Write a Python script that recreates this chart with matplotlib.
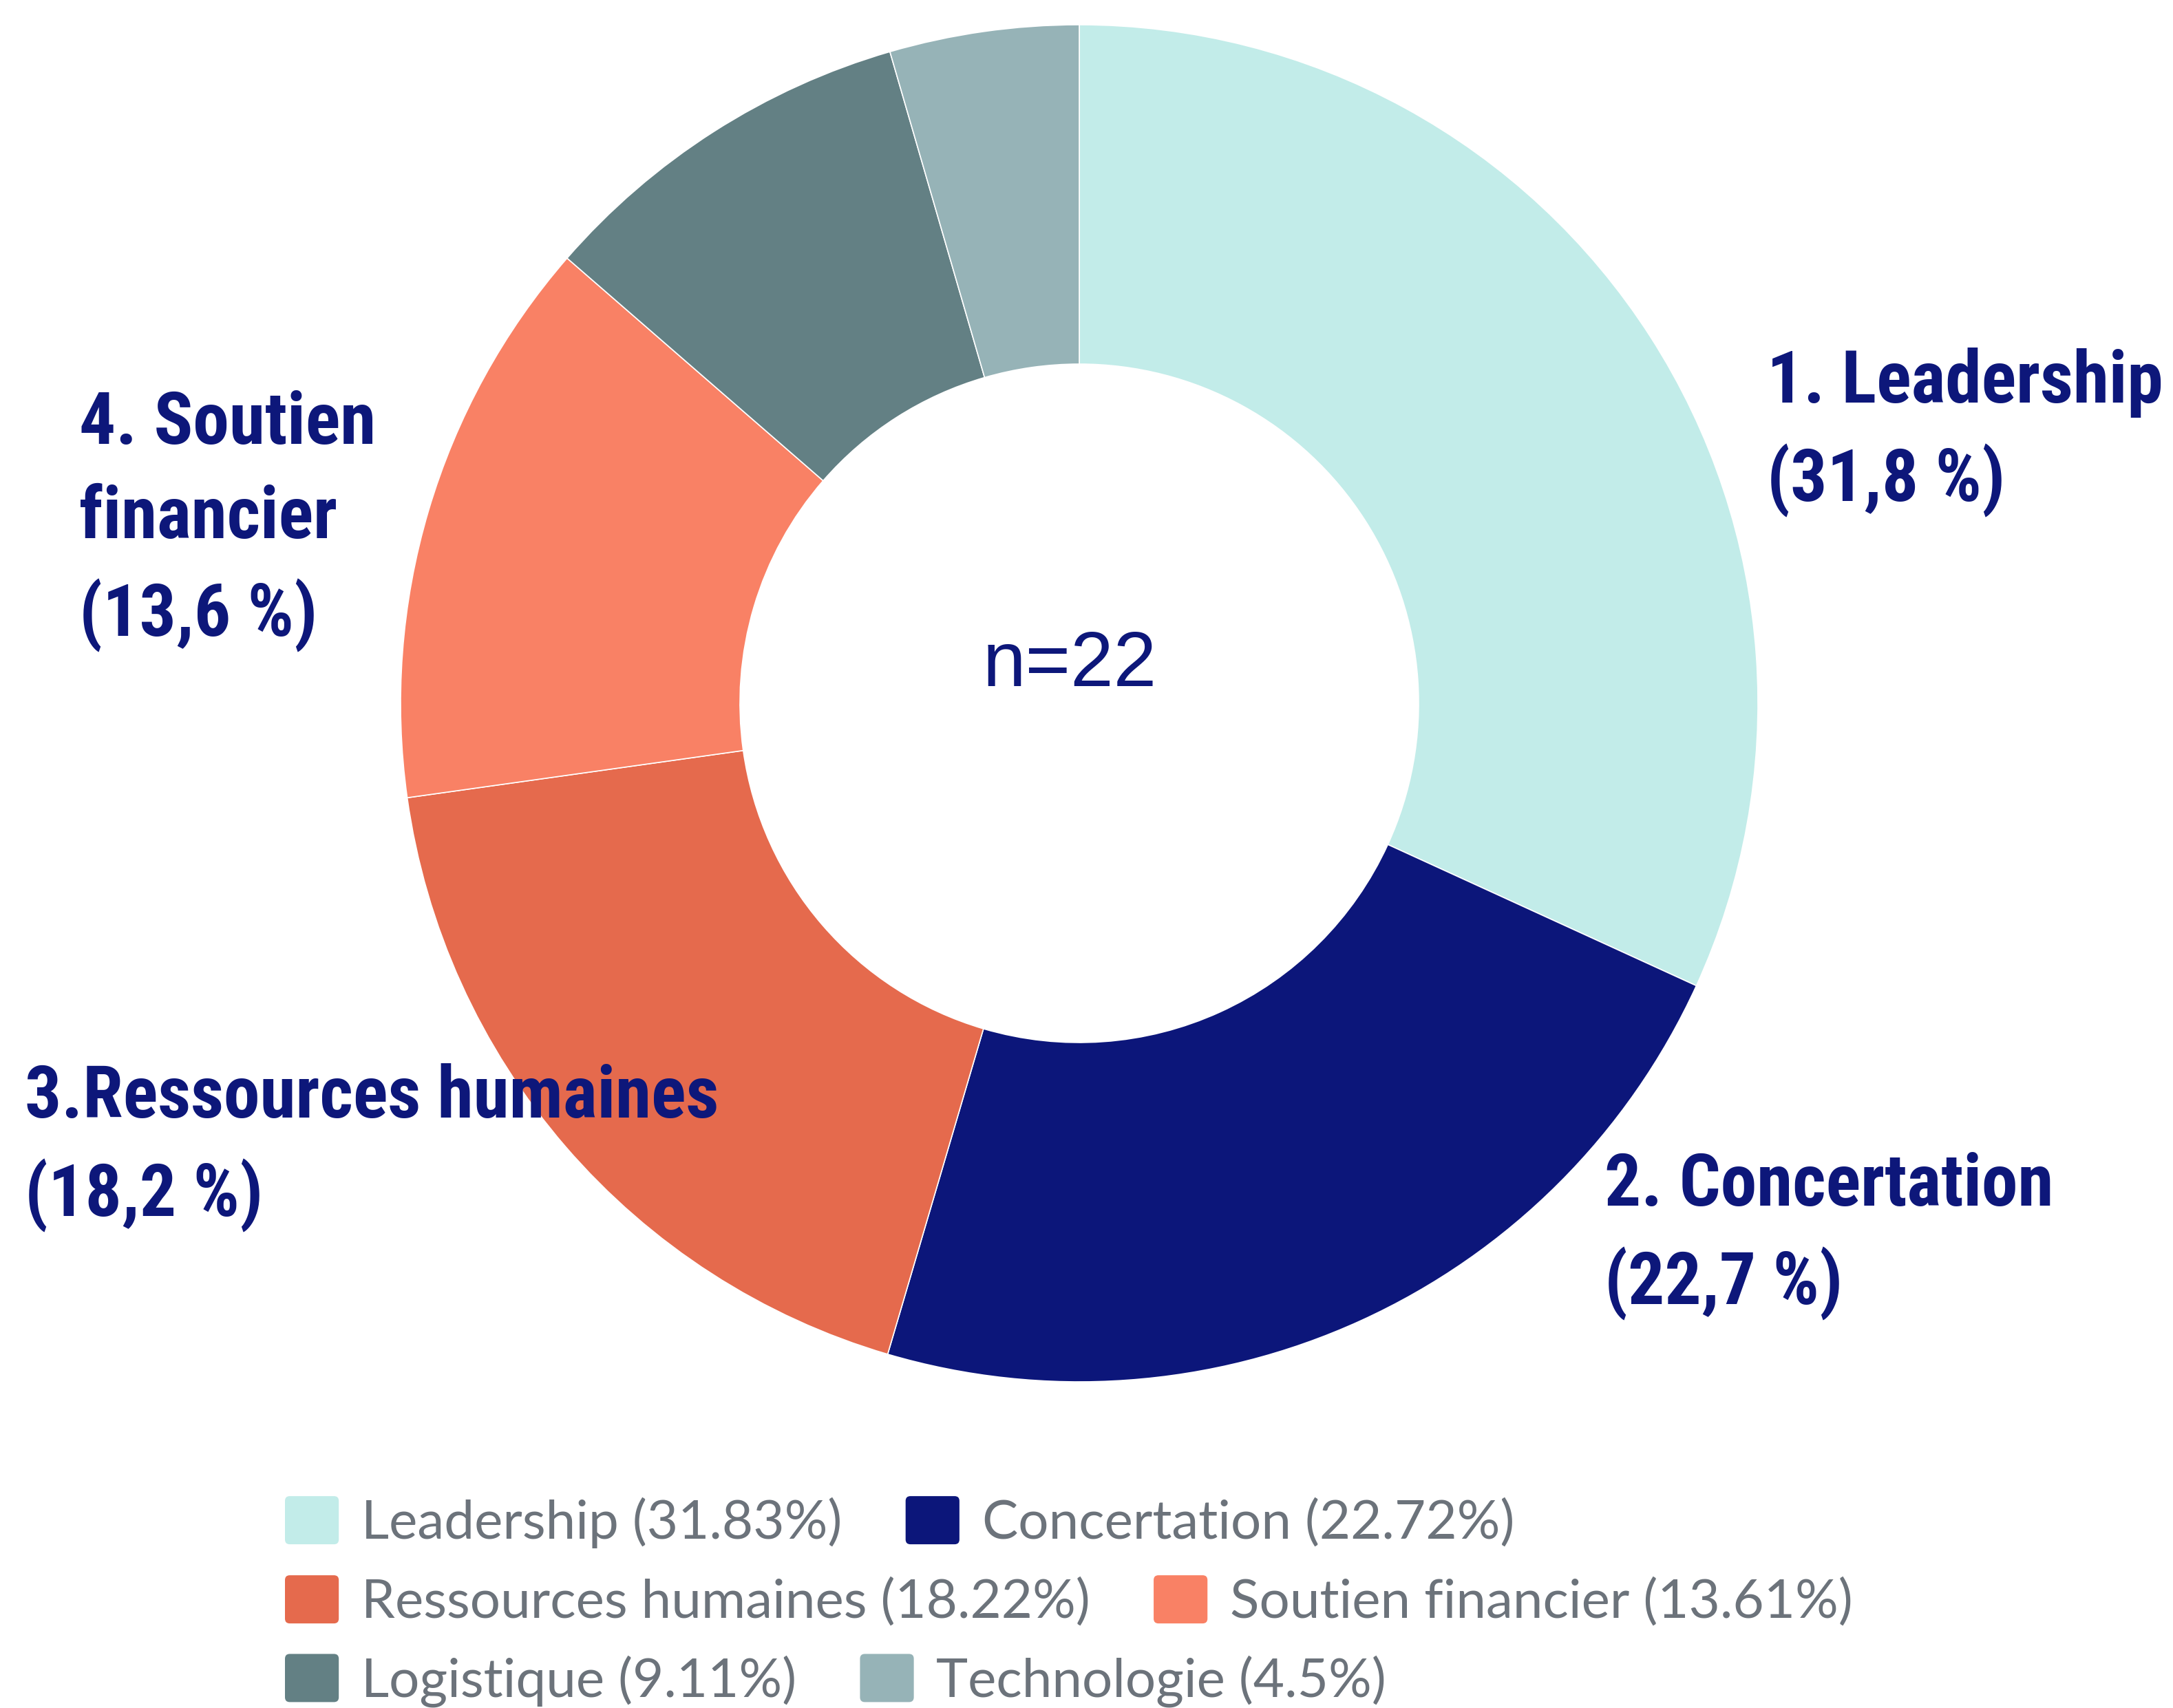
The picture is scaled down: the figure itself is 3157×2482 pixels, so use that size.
import matplotlib
matplotlib.use("Agg")
import matplotlib.pyplot as plt
from matplotlib.patches import Patch, FancyBboxPatch
from matplotlib.legend_handler import HandlerPatch
from matplotlib import font_manager

# Données
categories = ["Leadership", "Concertation", "Ressources humaines",
              "Soutien financier", "Logistique", "Technologie"]
values = [31.83, 22.72, 18.22, 13.61, 9.11, 4.5]
legend_pct = ["31.83%", "22.72%", "18.22%", "13.61%", "9.11%", "4.5%"]
colors = ["#c2ece9", "#0c167a", "#e56a4d", "#f98165", "#638084", "#96b3b7"]
labels_fr = ["1. Leadership\n(31,8 %)", "2. Concertation\n(22,7 %)",
             "3.Ressources humaines\n(18,2 %)", "4. Soutien\nfinancier\n(13,6 %)"]
n_total = 22

W, H = 3157, 2482
navy = "#0d177a"
grey = "#6c737b"

# police étroite pour les étiquettes
def pick_font(names):
    for n in names:
        try:
            font_manager.findfont(font_manager.FontProperties(family=n), fallback_to_default=False)
            return n
        except Exception:
            pass
    return "DejaVu Sans"

narrow = pick_font(["Liberation Sans Narrow", "Roboto Condensed", "DejaVu Sans"])

fig = plt.figure(figsize=(W / 100, H / 100), dpi=100)
fig.patch.set_facecolor("white")

# Anneau
cx, cy, r = 1568, 1022, 986
ax = fig.add_axes([(cx - r) / W, (H - cy - r) / H, 2 * r / W, 2 * r / H])
ax.pie(values, colors=colors, startangle=90, counterclock=False, radius=1,
       wedgeprops=dict(width=0.5, edgecolor="white", linewidth=1.2))
ax.set_xlim(-1, 1)
ax.set_ylim(-1, 1)
ax.set_aspect("equal")
ax.axis("off")
ax.text(-0.014, 0.055, f"n={n_total}", ha="center", va="center", fontsize=81,
        color=navy, family="Liberation Sans")

# Étiquettes
label_pos = [(2567, 505), (2331, 1673), (36, 1545), (115, 566)]
for txt, (x, y) in zip(labels_fr, label_pos):
    fig.text(x / W, 1 - y / H, txt, ha="left", va="top", fontsize=76,
             fontweight="bold", color=navy, family=narrow, linespacing=1.45)

# Légende avec carrés arrondis
class RoundBox(HandlerPatch):
    def create_artists(self, legend, orig_handle, xdescent, ydescent, width, height, fontsize, trans):
        p = FancyBboxPatch((-xdescent, -ydescent), width, height,
                           boxstyle="round,pad=0,rounding_size=5",
                           facecolor=orig_handle.get_facecolor(), edgecolor="none",
                           transform=trans)
        return [p]

handles = [Patch(facecolor=c) for c in colors]
names = [f"{c} ({p})" for c, p in zip(categories, legend_pct)]
rows = [(0, 2, 2212), (2, 4, 2327), (4, 6, 2442)]
for a, b, yc in rows:
    leg = fig.legend(handles[a:b], names[a:b], loc="center left",
                     bbox_to_anchor=(414 / W, 1 - yc / H), ncol=2, frameon=False,
                     prop={"family": "Lato", "size": 56.3}, labelcolor=grey,
                     handlelength=1.0, handleheight=1.0, handletextpad=0.42,
                     columnspacing=1.18, borderpad=0, borderaxespad=0,
                     handler_map={Patch: RoundBox()})

fig.savefig("out.png", dpi=100)
